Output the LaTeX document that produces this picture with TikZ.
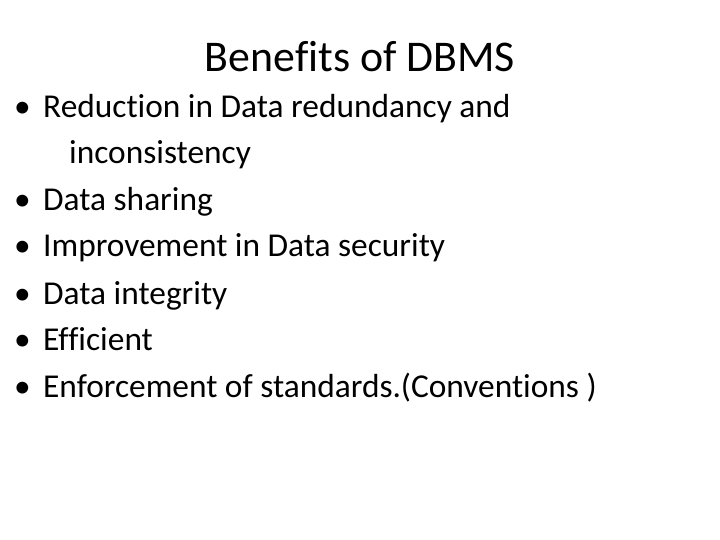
\documentclass[tikz,border=0pt]{standalone}
\usepackage{fontspec}
\setmainfont{Carlito}[RawFeature=-liga]
\begin{document}
\begin{tikzpicture}[x=1bp,y=-1bp,
  txt/.style={anchor=base west,inner sep=0pt,font=\fontsize{33.5}{38}\selectfont},
  bul/.style={anchor=base west,inner sep=0pt,font=\fontsize{33.5}{38}\selectfont}]
\useasboundingbox (0,0) rectangle (720,540);
\node[anchor=base,inner sep=0pt,font=\fontsize{44}{50}\selectfont] (title) at (360,72) {Benefits of DBMS};
\foreach \i/\y/\t in {a/118/Reduction in Data redundancy and, c/211/Data sharing, d/257/Improvement in Data security, e/304/Data integrity, f/350/Efficient, g/397/Enforcement of standards.(Conventions )}{
  \node[bul] (b\i) at (14,\y) {•};
  \node[txt] (t\i) at (43,\y) {\t};
}
\node[txt] (tb) at (69,164) {inconsistency};
\end{tikzpicture}
\end{document}
